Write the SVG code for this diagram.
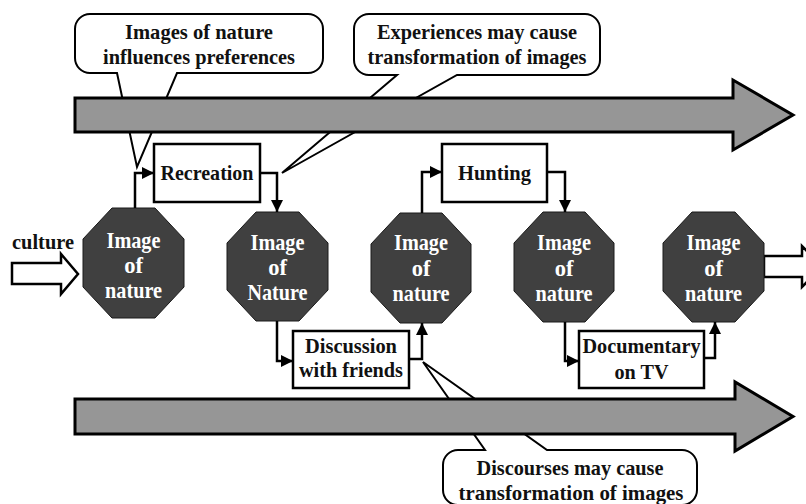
<svg xmlns="http://www.w3.org/2000/svg" width="806" height="504" viewBox="0 0 806 504">
<style>
text{font-family:'Liberation Serif',serif;font-weight:bold;font-size:21.5px;text-anchor:middle;fill:#111}
.oct polygon{fill:#404040;stroke:#1a1a1a;stroke-width:1}
.oct text{fill:#fff;font-size:22.5px}
.box rect{fill:#fff;stroke:#000;stroke-width:2.5}
.callout path{fill:#fff;stroke:#000;stroke-width:2}
.big{fill:#969696;stroke:#000;stroke-width:3;stroke-linejoin:miter}
.open{fill:#fff;stroke:#000;stroke-width:2.5}
.conn path{fill:none;stroke:#000;stroke-width:2.5;marker-end:url(#ah)}
</style>
<defs>
<marker id="ah" viewBox="0 0 10 10" refX="10" refY="5" markerWidth="12" markerHeight="13" markerUnits="userSpaceOnUse" orient="auto">
<path d="M0,0 L10,5 L0,10 z" fill="#000"/>
</marker>
</defs>
<rect width="806" height="504" fill="#fff"/>

<g font-family="Liberation Serif, serif" lengthAdjust="spacingAndGlyphs">
<g id="callout-preferences" class="callout">
<path d="M90,14 H308 A15,15 0 0 1 323,29 V58 A15,15 0 0 1 308,73 H177 L137,167 L117,73 H90 A15,15 0 0 1 75,58 V29 A15,15 0 0 1 90,14 Z"/>
<text x="199" y="39" textLength="148" lengthAdjust="spacingAndGlyphs">Images of nature</text>
<text x="199" y="64" textLength="192" lengthAdjust="spacingAndGlyphs">influences preferences</text>
</g>
<g id="callout-experiences" class="callout">
<path d="M369,14 H585 A15,15 0 0 1 600,29 V60 A15,15 0 0 1 585,75 H457 L282,173 L397,75 H369 A15,15 0 0 1 354,60 V29 A15,15 0 0 1 369,14 Z"/>
<text x="477" y="39" textLength="200" lengthAdjust="spacingAndGlyphs">Experiences may cause</text>
<text x="477" y="64" textLength="219" lengthAdjust="spacingAndGlyphs">transformation of images</text>
</g>
<g id="callout-discourses" class="callout">
<path d="M458,450 H485 L423,362 L547,450 H682 A15,15 0 0 1 697,465 V490 A15,15 0 0 1 682,505 H458 A15,15 0 0 1 443,490 V465 A15,15 0 0 1 458,450 Z"/>
<text x="570" y="475" textLength="187" lengthAdjust="spacingAndGlyphs">Discourses may cause</text>
<text x="571" y="500" textLength="225" lengthAdjust="spacingAndGlyphs">transformation of images</text>
</g>

<g id="arrow-top">
<polygon class="big" points="75,98 733,98 733,80 793,115 733,150 733,132 75,132"/>
</g>
<g id="arrow-bottom">
<polygon class="big" points="75,399 735,399 735,382 793,416.5 735,451 735,434 75,434"/>
</g>

<g id="culture">
<text x="43" y="249" textLength="62" lengthAdjust="spacingAndGlyphs">culture</text>
<polygon class="open" points="12,263 61,263 61,254 78,274 61,294 61,284 12,284"/>
</g>
<g id="out-arrow">
<polygon class="open" points="764,256 802,256 802,246 822,266.5 802,287 802,277 764,277"/>
</g>

<g id="box-recreation" class="box">
<rect x="154" y="144" width="106" height="58"/>
<text x="207" y="180" textLength="93" lengthAdjust="spacingAndGlyphs">Recreation</text>
</g>
<g id="box-hunting" class="box">
<rect x="442" y="144" width="105" height="58"/>
<text x="494.5" y="180" textLength="73" lengthAdjust="spacingAndGlyphs">Hunting</text>
</g>
<g id="box-discussion" class="box">
<rect x="293" y="331" width="116" height="57"/>
<text x="351" y="353" textLength="92" lengthAdjust="spacingAndGlyphs">Discussion</text>
<text x="351" y="377" textLength="104" lengthAdjust="spacingAndGlyphs">with friends</text>
</g>
<g id="box-documentary" class="box">
<rect x="579" y="331" width="125" height="57"/>
<text x="641.5" y="353" textLength="118" lengthAdjust="spacingAndGlyphs">Documentary</text>
<text x="641.5" y="379" textLength="54" lengthAdjust="spacingAndGlyphs">on TV</text>
</g>

<g id="image1" class="oct">
<polygon points="112,208 155,208 184,239 184,287 155,318 112,318 83,287 83,239"/>
<text x="133.5" y="248" textLength="54" lengthAdjust="spacingAndGlyphs">Image</text><text x="133.5" y="273">of</text><text x="133.5" y="298" textLength="57" lengthAdjust="spacingAndGlyphs">nature</text>
</g>
<g id="image2" class="oct">
<polygon points="256,212 299,212 328,243 328,290 299,321 256,321 227,290 227,243"/>
<text x="277.5" y="250" textLength="54" lengthAdjust="spacingAndGlyphs">Image</text><text x="277.5" y="275">of</text><text x="277.5" y="300" textLength="60" lengthAdjust="spacingAndGlyphs">Nature</text>
</g>
<g id="image3" class="oct">
<polygon points="400,213 442,213 471,244 471,292 442,323 400,323 371,292 371,244"/>
<text x="421" y="250" textLength="54" lengthAdjust="spacingAndGlyphs">Image</text><text x="421" y="276">of</text><text x="421" y="301" textLength="57" lengthAdjust="spacingAndGlyphs">nature</text>
</g>
<g id="image4" class="oct">
<polygon points="543,212 585,212 614,243 614,291 585,322 543,322 514,291 514,243"/>
<text x="564" y="250" textLength="54" lengthAdjust="spacingAndGlyphs">Image</text><text x="564" y="276">of</text><text x="564" y="301" textLength="57" lengthAdjust="spacingAndGlyphs">nature</text>
</g>
<g id="image5" class="oct">
<polygon points="692,212 735,212 764,243 764,291 735,322 692,322 663,291 663,243"/>
<text x="713.5" y="250" textLength="54" lengthAdjust="spacingAndGlyphs">Image</text><text x="713.5" y="276">of</text><text x="713.5" y="301" textLength="57" lengthAdjust="spacingAndGlyphs">nature</text>
</g>
</g>

<g id="connectors" class="conn">
<path d="M135,208 V173 H154"/>
<path d="M260,173 H277 V212"/>
<path d="M277,321 V361 H293"/>
<path d="M409,359 H422 V323"/>
<path d="M422,213 V172 H442"/>
<path d="M547,172 H565 V212"/>
<path d="M565,322 V361 H579"/>
<path d="M704,358 H715 V322"/>
</g>
</svg>
